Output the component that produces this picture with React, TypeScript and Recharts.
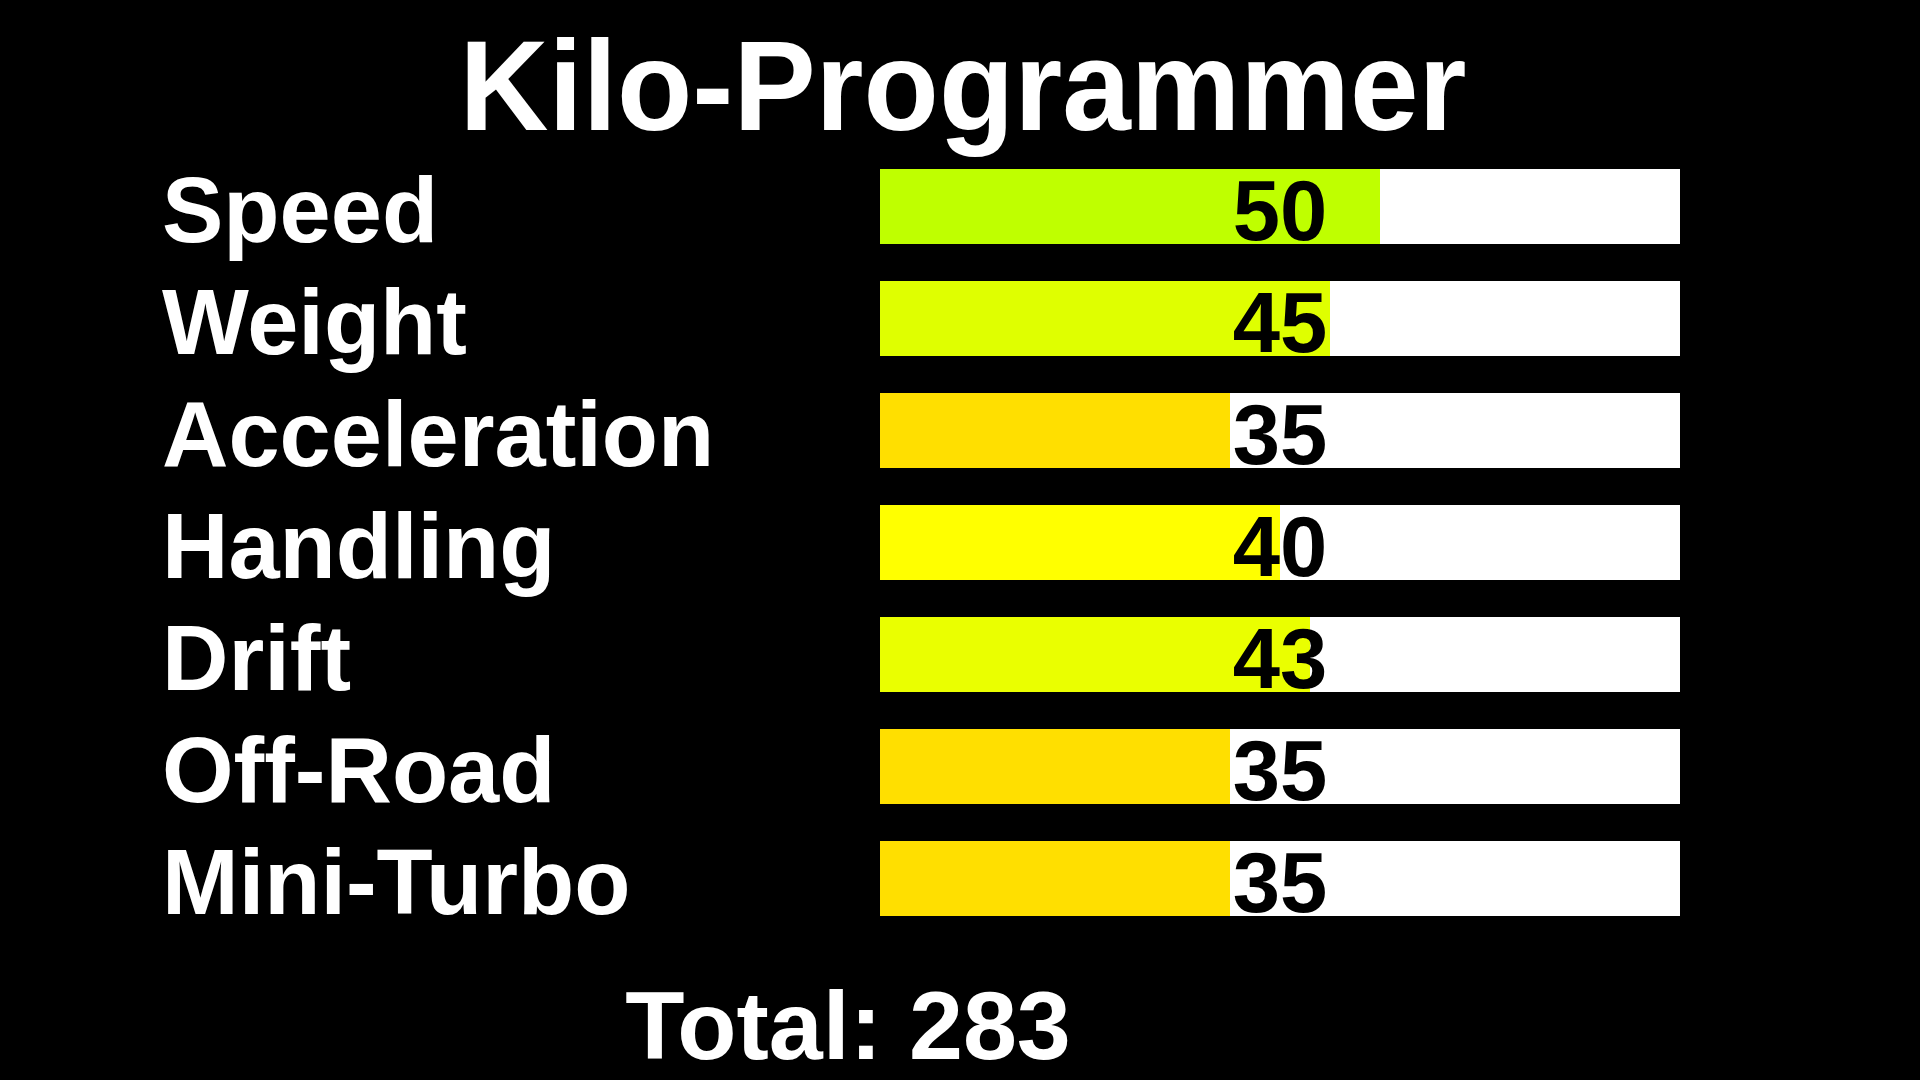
import React from 'react';
import { BarChart, Bar, XAxis, YAxis, Cell, LabelList } from 'recharts';

const categories = ['Speed', 'Weight', 'Acceleration', 'Handling', 'Drift', 'Off-Road', 'Mini-Turbo'];
const values = [50, 45, 35, 40, 43, 35, 35];
const barColors = ['#BFFF00', '#DFFF00', '#FFDF00', '#FFFF00', '#EAFF00', '#FFDF00', '#FFDF00'];
const maxValue = 80;
const title = 'Kilo-Programmer';
const totalLabel = 'Total: 283';

const data = categories.map((name, i) => ({ name, value: values[i] }));

const FONT = '"Liberation Sans", Arial, Helvetica, sans-serif';

const CategoryTick = (props: any) => {
  const { y, payload } = props;
  return (
    <text x={162} y={y + 36} fill="#FFFFFF" fontFamily={FONT} fontWeight="bold" fontSize={92} textAnchor="start">
      {payload.value}
    </text>
  );
};

const ValueLabel = (props: any) => {
  const { x, y, width, height, value } = props;
  const perUnit = width / value;
  const cx = x + perUnit * (maxValue / 2);
  return (
    <text x={cx} y={y + height / 2 + 33} fill="#000000" fontFamily={FONT} fontWeight="bold" fontSize={85} textAnchor="middle">
      {value}
    </text>
  );
};

export default function App() {
  return (
    <div style={{ position: 'absolute', left: 0, top: 0, width: 1920, height: 1080, background: '#000000', overflow: 'hidden' }}>
      <BarChart
        width={1920}
        height={1080}
        data={data}
        layout="vertical"
        margin={{ top: 150, right: 240, bottom: 146, left: 162 }}
        barCategoryGap={37}
      >
        <XAxis type="number" domain={[0, maxValue]} hide />
        <YAxis
          type="category"
          dataKey="name"
          width={718}
          axisLine={false}
          tickLine={false}
          tick={<CategoryTick />}
          interval={0}
        />
        <Bar dataKey="value" barSize={75} background={{ fill: '#FFFFFF' }} isAnimationActive={false}>
          {data.map((d, i) => (
            <Cell key={d.name} fill={barColors[i]} />
          ))}
          <LabelList dataKey="value" content={<ValueLabel />} />
        </Bar>
      </BarChart>
      <svg width={1920} height={1080} style={{ position: 'absolute', left: 0, top: 0, pointerEvents: 'none' }}>
        <text x={963} y={130} fill="#FFFFFF" fontFamily={FONT} fontWeight="bold" fontSize={128} textAnchor="middle" textLength={1007} lengthAdjust="spacingAndGlyphs">
          {title}
        </text>
        <text x={848} y={1059} fill="#FFFFFF" fontFamily={FONT} fontWeight="bold" fontSize={97} textAnchor="middle">
          {totalLabel}
        </text>
      </svg>
    </div>
  );
}
